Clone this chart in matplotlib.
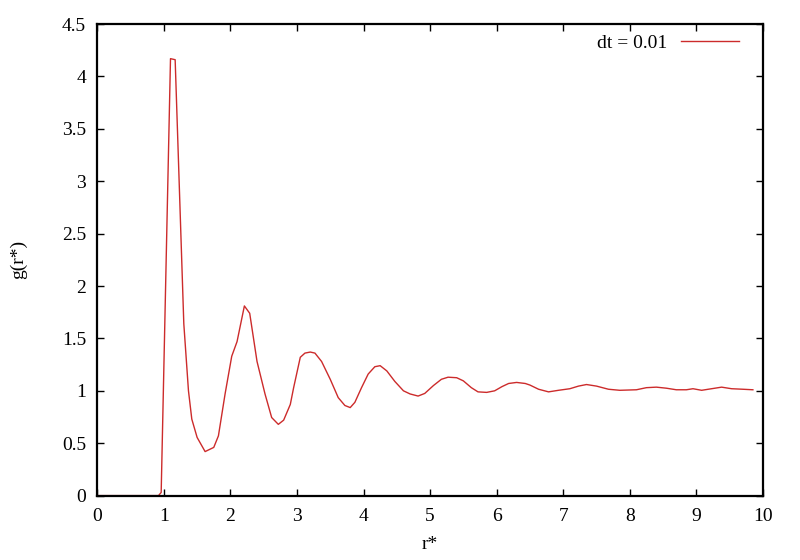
import matplotlib.pyplot as plt

# radial distribution function
r = [0.0, 0.92, 0.96, 1.10, 1.17, 1.30, 1.37, 1.42, 1.50, 1.62, 1.75, 1.82,
     1.92, 2.02, 2.10, 2.21, 2.29, 2.40, 2.52, 2.62, 2.72, 2.80, 2.90, 2.95,
     3.05, 3.12, 3.20, 3.27, 3.37, 3.50, 3.62, 3.72, 3.80, 3.87, 3.97, 4.07,
     4.17, 4.25, 4.35, 4.47, 4.60, 4.70, 4.82, 4.92, 5.05, 5.17, 5.27, 5.40,
     5.50, 5.62, 5.72, 5.85, 5.97, 6.08, 6.18, 6.30, 6.43, 6.50, 6.63, 6.78,
     6.93, 7.10, 7.23, 7.35, 7.50, 7.68, 7.85, 8.10, 8.25, 8.40, 8.55, 8.70,
     8.85, 8.95, 9.08, 9.23, 9.38, 9.53, 9.70, 9.85]
g = [0.0, 0.0, 0.03, 4.17, 4.16, 1.64, 1.00, 0.73, 0.555, 0.42, 0.46, 0.57,
     0.97, 1.33, 1.47, 1.81, 1.74, 1.28, 0.97, 0.745, 0.68, 0.72, 0.87, 1.03,
     1.32, 1.36, 1.37, 1.36, 1.28, 1.11, 0.935, 0.86, 0.84, 0.89, 1.03, 1.16,
     1.23, 1.24, 1.19, 1.09, 1.00, 0.97, 0.95, 0.975, 1.05, 1.11, 1.13, 1.125,
     1.095, 1.03, 0.99, 0.985, 1.00, 1.04, 1.07, 1.08, 1.07, 1.055, 1.015, 0.99,
     1.005, 1.02, 1.045, 1.06, 1.045, 1.015, 1.005, 1.01, 1.03, 1.035, 1.025, 1.01,
     1.01, 1.02, 1.005, 1.02, 1.035, 1.02, 1.015, 1.01]

xticks = list(range(0, 11))
yticks = [0, 0.5, 1, 1.5, 2, 2.5, 3, 3.5, 4, 4.5]
ytick_labels = ['0', '0.5', '1', '1.5', '2', '2.5', '3', '3.5', '4', '4.5']

plt.rcParams['font.family'] = ['Liberation Serif', 'DejaVu Serif']
plt.rcParams['font.size'] = 14

fig = plt.figure(figsize=(8, 5.6), dpi=100)
ax = fig.add_axes([0.1216, 0.115, 0.832, 0.842])

ax.plot(r, g, color='#cc2b2b', lw=1.0, label='dt = 0.01', zorder=1)

ax.set_xlim(0, 10)
ax.set_ylim(0, 4.5)
ax.set_xticks(xticks)
ax.set_yticks(yticks)
ax.set_yticklabels(ytick_labels)
ax.tick_params(direction='in', length=5, width=1, top=True, right=True,
               labelsize=14)
ax.tick_params(axis='x', pad=9)
ax.tick_params(axis='y', pad=8)
for s in ax.spines.values():
    s.set_linewidth(1.6)

ax.set_xlabel('r*')
ax.set_ylabel('g(r*)')
ax.xaxis.set_label_coords(0.5, -0.085)
ax.yaxis.set_label_coords(-0.105, 0.5)

ax.legend(loc='center right', bbox_to_anchor=(0.976, 0.96), frameon=False,
          markerfirst=False, handlelength=3.0, handletextpad=0.7,
          borderaxespad=0.0, fontsize=14)

fig.savefig('out.png', dpi=100)
